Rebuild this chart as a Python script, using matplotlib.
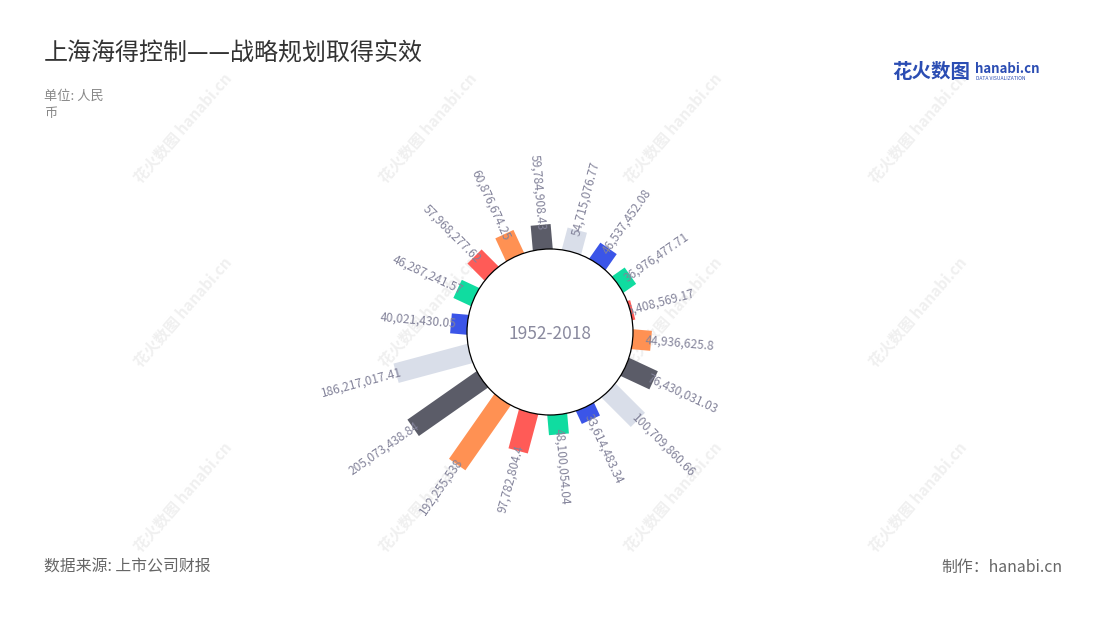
import numpy as np
import matplotlib.pyplot as plt
from matplotlib.patches import Rectangle, Circle
from matplotlib.transforms import Affine2D

plt.rcParams['font.family'] = ['Noto Sans CJK SC', 'DejaVu Sans']

# values clockwise from the top
values = [59784908.43, 54715076.77, 46537452.08, 36976477.71, 6408569.17,
          44936625.8, 76430031.03, 100709860.66, 33614483.34, 48100054.04,
          97782804.4, 192255538, 205073438.84, 186217017.41, 40021430.05,
          46287241.57, 57968277.62, 60876674.25]
labels = ['59,784,908.43', '54,715,076.77', '46,537,452.08', '36,976,477.71',
          '6,408,569.17', '44,936,625.8', '76,430,031.03', '100,709,860.66',
          '33,614,483.34', '48,100,054.04', '97,782,804.4', '192,255,538',
          '205,073,438.84', '186,217,017.41', '40,021,430.05', '46,287,241.57',
          '57,968,277.62', '60,876,674.25']
palette = ['#5b5c68', '#d9dee9', '#3b55e8', '#10dca0', '#ff5b57', '#ff9153']
center_label = '1952-2018'

W, H = 1100, 620
fig = plt.figure(figsize=(11, 6.2), dpi=100)
fig.patch.set_facecolor('white')

def fx(x):
    return x / W

def fy(y):
    return 1 - y / H

# background axes for watermarks
bg = fig.add_axes([0, 0, 1, 1])
bg.set_xlim(0, W)
bg.set_ylim(H, 0)
bg.axis('off')
for cx in [183, 428, 673, 918]:
    for cy in [128, 312, 497]:
        bg.text(cx, cy, '花火数图 hanabi.cn', rotation=49, ha='center', va='center',
                fontsize=11, fontweight='bold', color='#f0f0f0', zorder=0)

# chart axes: units are millions, 0.41 px per million
scale = 0.41
half = 280
ccx, ccy = 550, 332
ax = fig.add_axes([fx(ccx - half), fy(ccy + half), 2 * half / W, 2 * half / H])
lim = half / scale
ax.set_xlim(-lim, lim)
ax.set_ylim(-lim, lim)
ax.set_aspect('equal')
ax.axis('off')

r0 = 83 / scale
bar_w = 20 / scale
offset = -5
n = len(values)
for i, (v, lab) in enumerate(zip(values, labels)):
    th = offset + i * 360 / n
    m = v / 1e6
    start = r0 - 20
    rect = Rectangle((-bar_w / 2, start), bar_w, r0 + m - start,
                     facecolor=palette[i % len(palette)], edgecolor='none',
                     transform=Affine2D().rotate_deg(-th) + ax.transData, zorder=2)
    ax.add_patch(rect)
    rr = r0 + m - 14
    t = np.radians(th)
    x, y = rr * np.sin(t), rr * np.cos(t)
    phi = 90 - th
    thn = th % 360
    if thn < 180:
        ax.text(x, y, lab, rotation=phi, rotation_mode='anchor', ha='left',
                va='center', fontsize=8.6, color='#83839a', zorder=3)
    else:
        ax.text(x, y, lab, rotation=phi + 180, rotation_mode='anchor', ha='right',
                va='center', fontsize=8.6, color='#83839a', zorder=3)

ax.add_patch(Circle((0, 0), r0, facecolor='white', edgecolor='black', lw=0.9, zorder=4))
ax.text(0, -4, center_label, ha='center', va='center', fontsize=12.5,
        color='#8a8a9e', zorder=5)

# titles and notes
fig.text(fx(44), fy(54), '上海海得控制——战略规划取得实效', fontsize=17.3,
         color='#333333', va='center', ha='left')
fig.text(fx(44), fy(96), '单位: 人民', fontsize=9.5, color='#888888', va='center')
fig.text(fx(44), fy(113), '币', fontsize=9.5, color='#888888', va='center')
fig.text(fx(44), fy(567), '数据来源: 上市公司财报', fontsize=11.4, color='#666666', va='center')
fig.text(fx(1062), fy(567), '制作：hanabi.cn', fontsize=11.4, color='#666666',
         va='center', ha='right')

# logo
fig.text(fx(892), fy(72), '花火数图', fontsize=14, fontweight='bold', color='#2b4db3',
         va='center', ha='left')
fig.text(fx(975), fy(69), 'hanabi.cn', fontsize=9.5, fontweight='bold', color='#2b4db3',
         va='center', ha='left')
fig.text(fx(976), fy(79), 'DATA VISUALIZATION', fontsize=3.6, color='#2b4db3',
         va='center', ha='left')

fig.savefig('out.png', dpi=100, facecolor='white')
